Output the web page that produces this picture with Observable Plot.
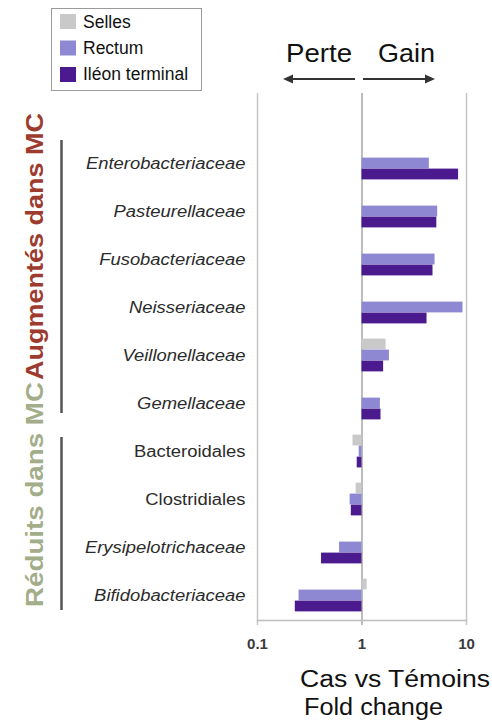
<!DOCTYPE html>
<html><head><meta charset="utf-8">
<script src="https://cdn.jsdelivr.net/npm/d3@7"></script>
<script src="https://cdn.jsdelivr.net/npm/@observablehq/plot@0.6"></script>
<style>
html,body{margin:0;padding:0;background:#fff;}
#wrap{position:relative;width:492px;height:721px;overflow:hidden;font-family:"Liberation Sans",Arial,sans-serif;}
#wrap > svg{position:absolute;left:0;top:0;}
</style></head><body><div id="wrap"></div>
<script>
const categories = ["Enterobacteriaceae","Pasteurellaceae","Fusobacteriaceae","Neisseriaceae","Veillonellaceae","Gemellaceae","Bacteroidales","Clostridiales","Erysipelotrichaceae","Bifidobacteriaceae"];
const uprightCategories = ["Bacteroidales","Clostridiales"];
const seriesNames = ["Selles","Rectum","Iléon terminal"];
const seriesColors = ["#c9c9c9","#8d88d1","#4b1a8f"];
const selles = [null,null,null,null,1.70,null,0.82,0.88,null,1.12];
const rectum = [4.41,5.30,5.00,9.26,1.83,1.50,0.94,0.77,0.61,0.25];
const ileon  = [8.40,5.20,4.78,4.19,1.61,1.52,0.90,0.79,0.41,0.23];
const xTicks = [0.1,1,10];
const xTickLabels = ["0.1","1","10"];
const groupLabels = ["Augmentés dans MC","Réduits dans MC"];
const directionLabels = ["Perte","Gain"];
const axisTitle = ["Cas vs Témoins","Fold change"];

const seriesValues = [selles, rectum, ileon];
const rows = seriesValues.map(vals => categories.map((c,i)=>({cat:c, value:vals[i]})).filter(d=>d.value!=null));
// bar placement inside each category band (band ≈ 48.2px, bar 11px)
const insets = [[7.6,29.6],[18.6,18.6],[29.6,7.6]];

const plot = Plot.plot({
  width:492, height:721,
  marginLeft:257, marginRight:26, marginTop:93, marginBottom:101,
  x:{type:"log", domain:[0.1,10], label:null},
  y:{type:"band", domain:categories, padding:0, insetTop:45, axis:null},
  style:{fontFamily:"'Liberation Sans', Arial, sans-serif", background:"transparent"},
  marks:[
    Plot.ruleX(xTicks.filter(d=>d!==1), {stroke:"#c6c6c6", strokeWidth:1.5, insetBottom:-5}),
    Plot.ruleX([1], {stroke:"#a6a6a6", strokeWidth:1.5, insetBottom:-5}),
    Plot.frame({anchor:"bottom", stroke:"#bdbdbd", strokeWidth:1.5}),
    ...rows.map((r,k)=>Plot.barX(r, {x1:()=>1, x2:"value", y:"cat", fill:seriesColors[k], insetTop:insets[k][0], insetBottom:insets[k][1]})),
    Plot.text(categories.filter(c=>!uprightCategories.includes(c)), {y:d=>d, text:d=>d, frameAnchor:"left", dx:-12, textAnchor:"end", fontStyle:"italic", fontSize:16, fill:"#2b2b2b"}),
    Plot.text(uprightCategories, {y:d=>d, text:d=>d, frameAnchor:"left", dx:-12, textAnchor:"end", fontSize:16, fill:"#2b2b2b"}),
    Plot.axisX({ticks:xTicks, tickFormat:d=>xTickLabels[xTicks.indexOf(d)], tickSize:0, tickPadding:18, fontSize:15, fill:"#3a3a3a", fontWeight:"bold", label:null})
  ]
});
const wrap = document.getElementById("wrap");
wrap.appendChild(plot);
// horizontally widened labels, as in the reference
plot.querySelectorAll('g[aria-label="text"] text').forEach(t=>{
  const w = t.getComputedTextLength();
  t.setAttribute("textLength", (w*1.15).toFixed(1));
  t.setAttribute("lengthAdjust","spacingAndGlyphs");
});

const ov = d3.create("svg").attr("width",492).attr("height",721).attr("viewBox","0 0 492 721")
  .style("font-family","'Liberation Sans', Arial, sans-serif");
// legend
const lg = ov.append("g");
lg.append("rect").attr("x",51.5).attr("y",8.5).attr("width",150).attr("height",82).attr("fill","#fff").attr("stroke","#9a9a9a");
seriesNames.forEach((s,i)=>{
  lg.append("rect").attr("x",60).attr("y",14+i*26.5).attr("width",16).attr("height",15).attr("fill",seriesColors[i]);
  lg.append("text").attr("x",83).attr("y",28+i*26).attr("font-size",17.5).attr("fill","#111").text(s);
});
// Perte / Gain
ov.append("text").attr("x",286).attr("y",62).attr("font-size",26).attr("fill","#111").attr("textLength",66).attr("lengthAdjust","spacingAndGlyphs").text(directionLabels[0]);
ov.append("text").attr("x",378).attr("y",62).attr("font-size",26).attr("fill","#111").attr("textLength",57).attr("lengthAdjust","spacingAndGlyphs").text(directionLabels[1]);
ov.append("line").attr("x1",355).attr("x2",290).attr("y1",79).attr("y2",79).attr("stroke","#333").attr("stroke-width",2);
ov.append("path").attr("d","M283,79 L293,74.5 L293,83.5 Z").attr("fill","#333");
ov.append("line").attr("x1",363).attr("x2",428).attr("y1",79).attr("y2",79).attr("stroke","#333").attr("stroke-width",2);
ov.append("path").attr("d","M435,79 L425,74.5 L425,83.5 Z").attr("fill","#333");
// group brackets and labels
ov.append("line").attr("x1",61.5).attr("x2",61.5).attr("y1",140).attr("y2",413).attr("stroke","#555").attr("stroke-width",2.5);
ov.append("line").attr("x1",61.5).attr("x2",61.5).attr("y1",437).attr("y2",610).attr("stroke","#555").attr("stroke-width",2.5);
ov.append("text").attr("transform","translate(43,380) rotate(-90)").attr("font-size",24).attr("font-weight","bold").attr("fill","#9c3b2e").attr("textLength",267).attr("lengthAdjust","spacingAndGlyphs").text(groupLabels[0]);
ov.append("text").attr("transform","translate(43,607) rotate(-90)").attr("font-size",24).attr("font-weight","bold").attr("fill","#a3ad89").attr("textLength",225).attr("lengthAdjust","spacingAndGlyphs").text(groupLabels[1]);
// axis title
ov.append("text").attr("x",300).attr("y",687).attr("font-size",23).attr("fill","#111").attr("textLength",190).attr("lengthAdjust","spacingAndGlyphs").text(axisTitle[0]);
ov.append("text").attr("x",304).attr("y",715).attr("font-size",23).attr("fill","#111").attr("textLength",139).attr("lengthAdjust","spacingAndGlyphs").text(axisTitle[1]);
wrap.appendChild(ov.node());
</script></body></html>
